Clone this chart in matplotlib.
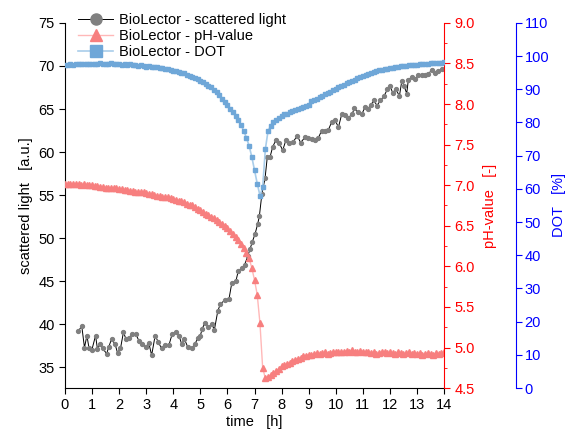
import numpy as np
import matplotlib
matplotlib.use("Agg")
import matplotlib.pyplot as plt
from matplotlib.ticker import MultipleLocator, FormatStrFormatter

plt.rcParams['font.family'] = ['Liberation Sans', 'DejaVu Sans']
plt.rcParams['font.size'] = 10.5

# -----------------------------
# Data
# -----------------------------
# scattered light [a.u.]
sl_time = [0.49, 0.62, 0.72, 0.81, 0.89, 0.99, 1.13, 1.20, 1.29, 1.39, 1.54, 1.62,
           1.72, 1.85, 1.94, 2.05, 2.16, 2.25, 2.36, 2.49, 2.61, 2.73, 2.86, 2.98,
           3.10, 3.20, 3.33, 3.45, 3.57, 3.69, 3.84, 3.96, 4.10, 4.21, 4.31, 4.41,
           4.53, 4.68, 4.80, 4.90, 4.99, 5.07, 5.17, 5.30, 5.42, 5.52, 5.64, 5.74,
           5.91, 6.06, 6.16, 6.31, 6.40, 6.53, 6.63, 6.75, 6.84, 6.92, 7.02, 7.12,
           7.18, 7.27, 7.39, 7.47, 7.57, 7.67, 7.79, 7.92, 8.04, 8.16, 8.28, 8.43,
           8.58, 8.70, 8.86, 8.98, 9.11, 9.23, 9.35, 9.48, 9.60, 9.73, 9.85, 9.97,
           10.10, 10.22, 10.35, 10.47, 10.60, 10.69, 10.81, 10.96, 11.08, 11.18, 11.30, 11.41,
           11.52, 11.65, 11.78, 11.91, 12.00, 12.10, 12.22, 12.35, 12.44, 12.52, 12.62, 12.68,
           12.80, 12.93, 13.05, 13.17, 13.29, 13.42, 13.54, 13.67, 13.79, 13.91]
sl_value = [39.2, 39.8, 37.3, 38.7, 37.2, 37.0, 38.7, 37.1, 37.7, 37.2, 36.6, 37.4,
            38.3, 37.7, 36.7, 37.2, 39.1, 38.3, 38.4, 38.9, 38.9, 38.1, 37.7, 37.4,
            37.8, 36.4, 38.7, 37.9, 37.2, 37.6, 37.6, 38.9, 39.1, 38.7, 37.7, 38.3,
            37.4, 37.2, 37.7, 38.4, 38.6, 39.5, 40.2, 39.7, 40.0, 39.4, 41.5, 42.4,
            42.8, 43.0, 44.8, 45.0, 46.2, 46.5, 46.9, 47.9, 48.8, 49.6, 50.5, 51.7,
            52.6, 55.1, 57.0, 59.4, 59.4, 60.6, 61.4, 61.0, 60.2, 61.4, 61.0, 61.2,
            61.9, 61.1, 61.7, 61.6, 61.5, 61.4, 61.6, 62.5, 62.4, 62.6, 63.5, 63.7,
            62.9, 64.4, 64.3, 64.0, 64.4, 65.1, 64.6, 64.4, 65.2, 65.0, 65.5, 66.0,
            65.4, 66.0, 66.5, 67.3, 67.7, 66.9, 67.3, 66.5, 68.3, 67.7, 66.8, 68.4,
            68.7, 68.5, 68.9, 68.9, 69.0, 69.1, 69.5, 69.2, 69.4, 69.6]

# pH and DOT logged every 0.1 h from 0 to 14 h
sensor_time = np.arange(141) / 10.0
ph_value = [7.02, 7.02, 7.01, 7.02, 7.01, 7.01, 7.00, 7.01, 7.00, 7.00, 7.00,
            6.99, 6.99, 6.98, 6.98, 6.97, 6.97, 6.97, 6.96, 6.96, 6.95,
            6.95, 6.94, 6.94, 6.93, 6.93, 6.92, 6.92, 6.91, 6.91, 6.90,
            6.89, 6.89, 6.88, 6.87, 6.87, 6.86, 6.85, 6.85, 6.84, 6.83,
            6.82, 6.81, 6.80, 6.79, 6.77, 6.76, 6.75, 6.73, 6.71, 6.69,
            6.67, 6.65, 6.63, 6.61, 6.59, 6.57, 6.55, 6.52, 6.50, 6.47,
            6.43, 6.40, 6.36, 6.32, 6.28, 6.22, 6.16, 6.10, 5.98, 5.83,
            5.65, 5.30, 4.75, 4.62, 4.64, 4.66, 4.69, 4.71, 4.73, 4.77,
            4.78, 4.80, 4.81, 4.83, 4.85, 4.86, 4.87, 4.89, 4.90, 4.91,
            4.91, 4.92, 4.93, 4.92, 4.93, 4.94, 4.92, 4.93, 4.95, 4.94,
            4.95, 4.94, 4.95, 4.96, 4.95, 4.97, 4.95, 4.94, 4.96, 4.95,
            4.94, 4.95, 4.93, 4.94, 4.92, 4.93, 4.95, 4.94, 4.93, 4.94,
            4.93, 4.92, 4.94, 4.93, 4.92, 4.93, 4.94, 4.92, 4.93, 4.92,
            4.93, 4.91, 4.92, 4.93, 4.92, 4.91, 4.93, 4.92, 4.93, 4.94]
dot_value = [97.3, 97.4, 97.5, 97.4, 97.6, 97.5, 97.6, 97.7, 97.5, 97.6, 97.6,
             97.7, 97.6, 97.8, 97.6, 97.7, 97.5, 97.9, 97.6, 97.5, 97.7,
             97.4, 97.6, 97.3, 97.5, 97.2, 97.3, 97.1, 97.2, 97.0, 96.8,
             96.9, 96.7, 96.6, 96.7, 96.4, 96.3, 96.1, 96.2, 95.9, 95.6,
             95.4, 95.3, 95.0, 94.8, 94.3, 94.1, 93.7, 93.4, 93.0, 92.6,
             92.1, 91.6, 91.1, 90.6, 89.8, 89.2, 88.2, 87.2, 86.2, 85.2,
             84.2, 83.2, 82.0, 80.6, 79.2, 77.5, 75.4, 73.0, 69.6, 65.6,
             61.6, 58.0, 60.5, 72.0, 77.5, 79.0, 80.2, 80.8, 81.3, 82.0,
             82.5, 82.7, 83.1, 83.4, 83.7, 84.1, 84.4, 84.8, 85.0, 85.4,
             86.4, 86.8, 87.2, 87.6, 88.1, 88.5, 88.9, 89.3, 89.8, 90.2,
             90.6, 91.0, 91.4, 91.8, 92.2, 92.6, 92.9, 93.3, 93.6, 94.0,
             94.2, 94.6, 94.9, 95.2, 95.5, 95.7, 95.9, 96.1, 96.2, 96.4,
             96.5, 96.6, 96.8, 96.9, 97.0, 97.1, 97.2, 97.3, 97.3, 97.4,
             97.5, 97.6, 97.6, 97.7, 97.8, 97.8, 97.9, 97.9, 98.0, 98.1]

RED = '#ff0000'
BLUE = '#0000ff'

# -----------------------------
# Figure
# -----------------------------
fig = plt.figure(figsize=(5.65, 4.4), dpi=100)
ax = fig.add_axes([0.115, 0.118, 0.671, 0.830])
ax2 = ax.twinx()
ax3 = ax.twinx()
ax3.spines['right'].set_position(('outward', 52))

l1, = ax.plot(sl_time, sl_value, color='black', lw=0.7, marker='o', ms=2.8,
              mfc='#808080', mec='#808080', label='BioLector - scattered light')
l2, = ax2.plot(sensor_time, ph_value, color='#ffb8b8', lw=1.0, marker='^', ms=3.8,
               mfc='#f77f7f', mec='#f77f7f', label='BioLector - pH-value')
l3, = ax3.plot(sensor_time, dot_value, color='#a9cdea', lw=1.2, marker='s', ms=3.1,
               mfc='#6fa7d8', mec='#6fa7d8', label='BioLector - DOT')

# host axis
ax.set_xlim(0, 14)
ax.set_ylim(32.6, 75)
ax.set_xticks(range(0, 15))
ax.set_yticks(range(35, 80, 5))
ax.set_xlabel('time   [h]', labelpad=2)
ax.set_ylabel('scattered light   [a.u.]')
ax.tick_params(direction='out', length=4)
ax.spines['top'].set_visible(False)
ax.spines['right'].set_visible(False)

# pH axis
ax2.set_ylim(4.5, 9.0)
ax2.yaxis.set_major_locator(MultipleLocator(0.5))
ax2.yaxis.set_minor_locator(MultipleLocator(0.25))
ax2.yaxis.set_major_formatter(FormatStrFormatter('%.1f'))
ax2.set_ylabel('pH-value   [-]', color=RED, labelpad=6)
ax2.tick_params(axis='y', which='both', direction='out', colors=RED)
ax2.tick_params(axis='y', which='major', length=4)
ax2.tick_params(axis='y', which='minor', length=2.5)
ax2.spines['right'].set_color(RED)

# DOT axis
ax3.set_ylim(0, 110)
ax3.set_yticks(range(0, 120, 10))
ax3.set_ylabel('DOT   [%]', color=BLUE, labelpad=2)
ax3.tick_params(axis='y', direction='out', length=4, pad=2, colors=BLUE)
ax3.spines['right'].set_color(BLUE)

for a in (ax2, ax3):
    a.spines['top'].set_visible(False)
    a.spines['left'].set_visible(False)
    a.spines['bottom'].set_visible(False)

leg = ax3.legend(handles=[l1, l2, l3], loc='upper left', bbox_to_anchor=(0.123, 0.99),
                 bbox_transform=fig.transFigure, frameon=False, markerscale=2.6,
                 handlelength=2.4, handletextpad=0.4, labelspacing=0.12, borderaxespad=0.2)
leg.legend_handles[0].set_markersize(8)
leg.legend_handles[1].set_markersize(9)
leg.legend_handles[2].set_markersize(8)

fig.savefig('out.png', dpi=100)
